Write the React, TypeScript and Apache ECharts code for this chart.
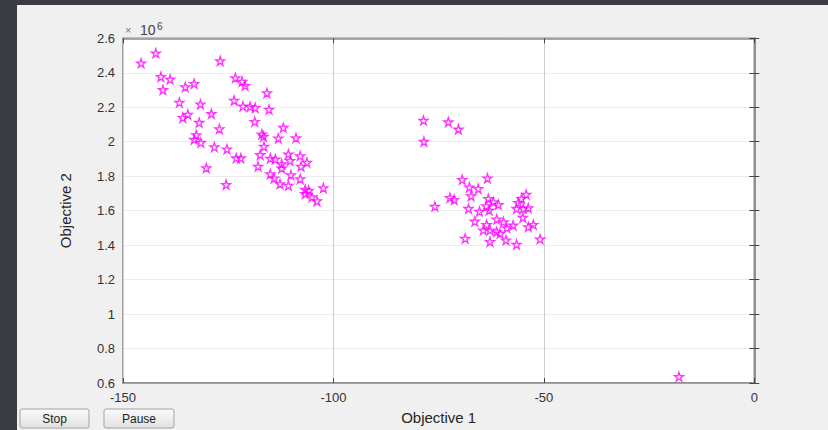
import React, { useEffect, useRef } from "react";
import * as echarts from "echarts";

// Objective 1 values (x)
const objective1: number[] = [
  -145.7, -142.2, -126.9, -141.0, -138.8, -140.5, -135.2, -133.1, -136.6, -131.6,
  -129.0, -135.8, -134.6, -131.9, -127.1, -132.6, -133.1, -131.5, -128.3, -130.2,
  -125.5, -123.3, -121.7, -121.0, -115.8, -123.6, -121.5, -119.8, -118.6, -115.3,
  -118.7, -111.9, -117.0, -116.6, -113.1, -108.9, -116.5, -125.3, -123.1, -122.0,
  -117.4, -115.0, -113.8, -110.7, -107.9, -112.3, -110.3, -106.3, -117.9, -107.7,
  -115.0, -112.3, -110.1, -114.1, -107.9, -112.7, -110.7, -106.7, -105.9, -102.4,
  -105.1, -103.9, -106.7,
  -78.6, -72.7, -70.3, -78.5, -69.4, -63.4, -67.7, -65.6, -67.3, -72.3,
  -71.3, -75.9, -63.2, -62.0, -60.8, -63.7, -67.9, -65.3, -63.0, -54.2,
  -55.3, -56.1, -56.5, -54.9, -53.7, -55.0, -66.4, -63.6, -61.2, -59.6,
  -57.3, -64.4, -62.8, -61.2, -60.4, -58.8, -53.7, -52.5, -68.7, -62.8,
  -59.0, -56.5, -50.9,
  -17.9,
];

// Objective 2 values (x 10^6)
const objective2: number[] = [
  2.456, 2.514, 2.469, 2.377, 2.362, 2.301, 2.318, 2.337, 2.228, 2.218,
  2.162, 2.139, 2.158, 2.111, 2.074, 2.039, 2.013, 1.995, 1.970, 1.848,
  1.751, 2.370, 2.350, 2.325, 2.283, 2.239, 2.206, 2.203, 2.197, 2.187,
  2.116, 2.082, 2.043, 2.030, 2.020, 2.022, 1.972, 1.957, 1.905, 1.905,
  1.924, 1.903, 1.899, 1.928, 1.918, 1.871, 1.890, 1.880, 1.857, 1.857,
  1.813, 1.846, 1.807, 1.788, 1.784, 1.755, 1.746, 1.723, 1.717, 1.732,
  1.679, 1.656, 1.698,
  2.124, 2.114, 2.072, 2.001, 1.780, 1.788, 1.736, 1.727, 1.685, 1.675,
  1.663, 1.625, 1.669, 1.650, 1.635, 1.627, 1.612, 1.596, 1.602, 1.694,
  1.669, 1.646, 1.612, 1.612, 1.616, 1.560, 1.538, 1.519, 1.550, 1.535,
  1.515, 1.487, 1.487, 1.477, 1.468, 1.500, 1.506, 1.519, 1.439, 1.420,
  1.429, 1.404, 1.435,
  0.637,
];

const xMin = -150;
const xMax = 0;
const xStep = 50;
const yMin = 0.6;
const yMax = 2.6;
const yStep = 0.2;

const xTitle = "Objective 1";
const yTitle = "Objective 2";
const buttonLabels = ["Stop", "Pause"];
const exponentBase = "10";
const exponentPower = "6";

const STAR =
  "path://M50 0 L61.23 34.55 L97.55 34.55 L68.16 55.9 L79.39 90.45 L50 69.1 L20.61 90.45 L31.84 55.9 L2.45 34.55 L38.77 34.55 Z";

export default function App() {
  const ref = useRef<HTMLDivElement>(null);

  useEffect(() => {
    const chart = echarts.init(ref.current!, null, { renderer: "svg" });
    const points = objective1.map((x, i) => [x, objective2[i]]);
    const font = "'Liberation Sans', Arial, sans-serif";
    const tickLabel = (v: number) => String(Math.round(v * 10) / 10);

    const button = (label: string, x: number, w: number) => ({
      type: "group",
      x,
      y: 404,
      children: [
        {
          type: "rect",
          shape: { x: 0, y: 0, width: w, height: 19, r: 2 },
          style: {
            fill: new echarts.graphic.LinearGradient(0, 0, 0, 1, [
              { offset: 0, color: "#fafafa" },
              { offset: 1, color: "#e1e1e1" },
            ]),
            stroke: "#a3a3a3",
            lineWidth: 1,
          },
        },
        {
          type: "text",
          x: w / 2,
          y: 10,
          style: {
            text: label,
            fill: "#222",
            font: `12px ${font}`,
            align: "center",
            verticalAlign: "middle",
          },
        },
      ],
    });

    const axisCommon = {
      type: "value",
      axisLine: { show: true, lineStyle: { color: "#8a8a8a", width: 1.5 } },
      axisTick: { show: true, inside: true, length: 5, lineStyle: { color: "#444" } },
    };

    chart.setOption({
      animation: false,
      backgroundColor: "#f0f0f0",
      grid: {
        left: 106,
        top: 33.3,
        right: 73.7,
        bottom: 44.3,
        show: true,
        backgroundColor: "#ffffff",
        borderColor: "#8a8a8a",
        borderWidth: 1.5,
        containLabel: false,
      },
      xAxis: [
        {
          ...axisCommon,
          min: xMin,
          max: xMax,
          interval: xStep,
          position: "bottom",
          name: xTitle,
          nameLocation: "middle",
          nameGap: 27,
          nameTextStyle: { fontFamily: font, fontSize: 15, color: "#262626" },
          axisLabel: { fontFamily: font, fontSize: 13, color: "#333", margin: 8 },
          splitLine: { show: true, lineStyle: { color: "#cdcdcd", width: 1 } },
        },
        {
          ...axisCommon,
          min: xMin,
          max: xMax,
          interval: xStep,
          position: "top",
          axisLabel: { show: false },
          splitLine: { show: false },
        },
      ],
      yAxis: [
        {
          ...axisCommon,
          min: yMin,
          max: yMax,
          interval: yStep,
          position: "left",
          name: yTitle,
          nameLocation: "middle",
          nameGap: 50,
          nameTextStyle: { fontFamily: font, fontSize: 15, color: "#262626" },
          axisLabel: { fontFamily: font, fontSize: 13, color: "#333", margin: 8, formatter: tickLabel },
          splitLine: { show: true, lineStyle: { color: "#ececec", width: 1 } },
        },
        {
          ...axisCommon,
          min: yMin,
          max: yMax,
          interval: yStep,
          position: "right",
          axisLabel: { show: false },
          splitLine: { show: false },
        },
      ],
      series: [
        {
          type: "scatter",
          xAxisIndex: 0,
          yAxisIndex: 0,
          data: points,
          symbol: STAR,
          symbolSize: 9,
          itemStyle: { color: "rgba(255,0,255,0.08)", borderColor: "#ff00ff", borderWidth: 1.3 },
        },
      ],
      graphic: [
        {
          type: "text",
          x: 108,
          y: 25,
          style: { text: "×", fill: "#777", font: `11px ${font}`, verticalAlign: "middle" },
        },
        {
          type: "text",
          x: 123,
          y: 25,
          style: { text: exponentBase, fill: "#444", font: `14px ${font}`, verticalAlign: "middle" },
        },
        {
          type: "text",
          x: 140,
          y: 21,
          style: { text: exponentPower, fill: "#444", font: `10px ${font}`, verticalAlign: "middle" },
        },
        button(buttonLabels[0], 3, 69),
        button(buttonLabels[1], 87, 70),
      ],
    });
    return () => chart.dispose();
  }, []);

  return (
    <div style={{ position: "fixed", left: 0, top: 0, width: 828, height: 430, background: "#3b3b43" }}>
      <div ref={ref} style={{ position: "absolute", left: 17, top: 5, width: 811, height: 425 }} />
    </div>
  );
}
